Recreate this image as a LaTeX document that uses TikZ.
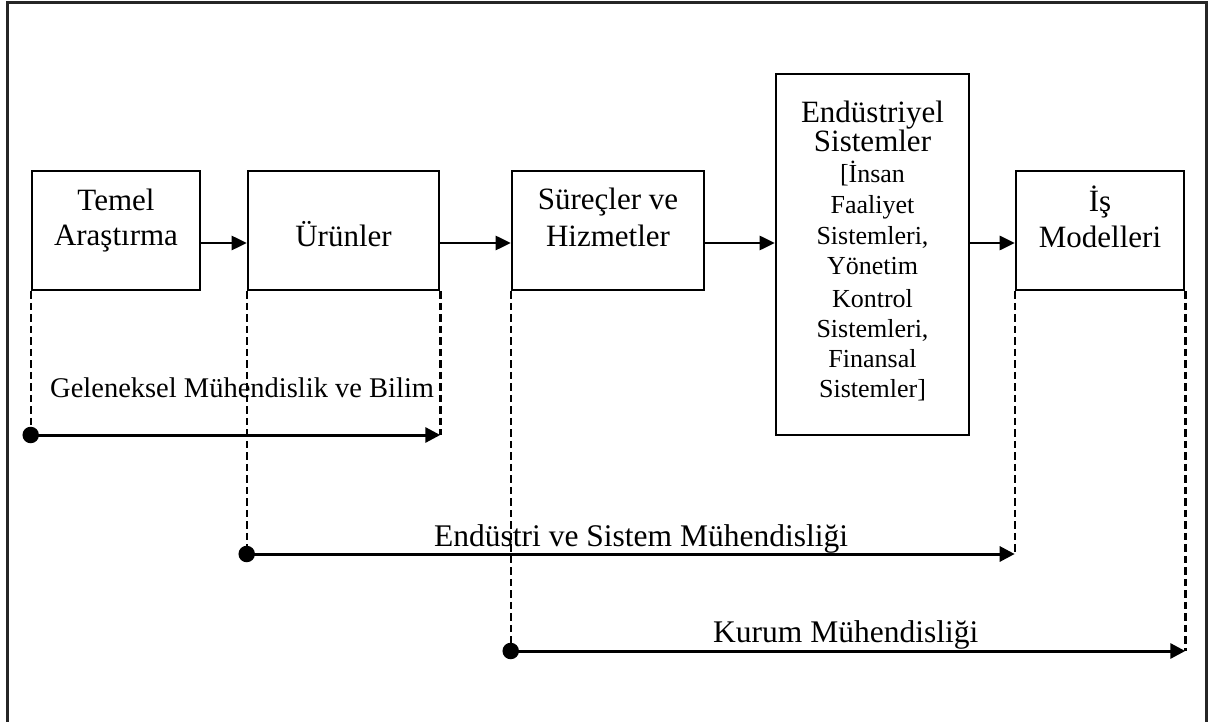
\documentclass[tikz,border=0pt]{standalone}
\usepackage{fontspec}
\setmainfont{Liberation Serif}
\usetikzlibrary{arrows.meta}
\begin{document}
\begin{tikzpicture}[x=1pt,y=-1pt,
  box/.style={draw, line width=2.6pt, inner sep=0pt, minimum height=119pt},
  bigtxt/.style={font=\fontsize{31}{35}\selectfont, inner sep=0pt, anchor=base},
  smalltxt/.style={font=\fontsize{26}{30}\selectfont, inner sep=0pt, anchor=base},
  spantxt/.style={font=\fontsize{31.5}{35}\selectfont, inner sep=0pt, anchor=base west},
  flow/.style={line width=2.7pt, -{Triangle[length=15pt,width=14pt]}},
  span/.style={line width=3pt, -{Triangle[length=15pt,width=15pt]}},
  guide/.style={line width=2.4pt, dash pattern=on 7.5pt off 4pt},
  dot/.style={circle, fill, inner sep=0pt, minimum size=16.5pt},
  frame/.style={draw=black!85, line width=2.8pt}
]
\useasboundingbox (0,0) rectangle (1208,722);
\clip (0,0) rectangle (1208,722);

% outer frame (its lower edge runs off the page)
\draw[frame] (7.5,2.5) rectangle (1206.5,740);

% stage boxes
\node[box, minimum width=168pt] (temel) at (116,230.5) {};
\node[box, minimum width=191pt] (urun)  at (343.5,230.5) {};
\node[box, minimum width=192pt] (surec) at (608,230.5) {};
\node[box, minimum width=193pt, minimum height=361pt] (endsis) at (872.5,254.5) {};
\node[box, minimum width=168pt] (ismod) at (1100,230.5) {};

% box captions
\node[bigtxt] (temel1) at (116,211) {Temel};
\node[bigtxt] (temel2) at (116,246) {Araştırma};
\node[bigtxt] (urun1)  at (343.5,247) {Ürünler};
\node[bigtxt] (surec1) at (608,210) {Süreçler ve};
\node[bigtxt] (surec2) at (608,247) {Hizmetler};
\node[bigtxt] (ismod1) at (1100,212) {İş};
\node[bigtxt] (ismod2) at (1100,248) {Modelleri};
\node[bigtxt] (endsis1) at (872.5,123) {Endüstriyel};
\node[bigtxt] (endsis2) at (872.5,152) {Sistemler};
\foreach \txt/\yy [count=\i from 3] in {{[İnsan}/183, {Faaliyet}/214, {Sistemleri,}/245,
    {Yönetim}/275, {Kontrol}/307, {Sistemleri,}/337, {Finansal}/367, {Sistemler]}/397}
  \node[smalltxt] (endsis\i) at (872.5,\yy) {\txt};

% flow between stages
\coordinate (row) at (0,243);
\draw[flow] (temel.east |- row) -- (urun.west |- row);
\draw[flow] (urun.east |- row) -- (surec.west |- row);
\draw[flow] (surec.east |- row) -- (endsis.west |- row);
\draw[flow] (endsis.east |- row) -- (ismod.west |- row);

% span start dots and end points
\node[dot] (g0) at (temel.south west |- 0,435) {};
\coordinate (g1) at (urun.south east |- g0);
\node[dot] (e0) at (urun.south west |- 0,554) {};
\coordinate (e1) at (ismod.south west |- e0);
\node[dot] (k0) at (surec.south west |- 0,651) {};
\coordinate (k1) at (ismod.south east |- k0);

% dashed drop lines
\draw[guide] (temel.south west) -- (g0.center);
\draw[guide] (urun.south east) -- (g1);
\draw[guide] (urun.south west) -- (e0.center);
\draw[guide] (ismod.south west) -- (e1);
\draw[guide] (surec.south west) -- (k0.center);
\draw[guide] (ismod.south east) -- (k1);

% spans
\draw[span] (g0.center) -- (g1);
\draw[span] (e0.center) -- (e1);
\draw[span] (k0.center) -- (k1);

% span labels
\node[font=\fontsize{28.5}{32}\selectfont, inner sep=0pt, anchor=base west] (glab) at (50,397) {Geleneksel Mühendislik ve Bilim};
\node[spantxt] (elab) at (434,546) {Endüstri ve Sistem Mühendisliği};
\node[spantxt] (klab) at (713,642) {Kurum Mühendisliği};
\end{tikzpicture}
\end{document}
